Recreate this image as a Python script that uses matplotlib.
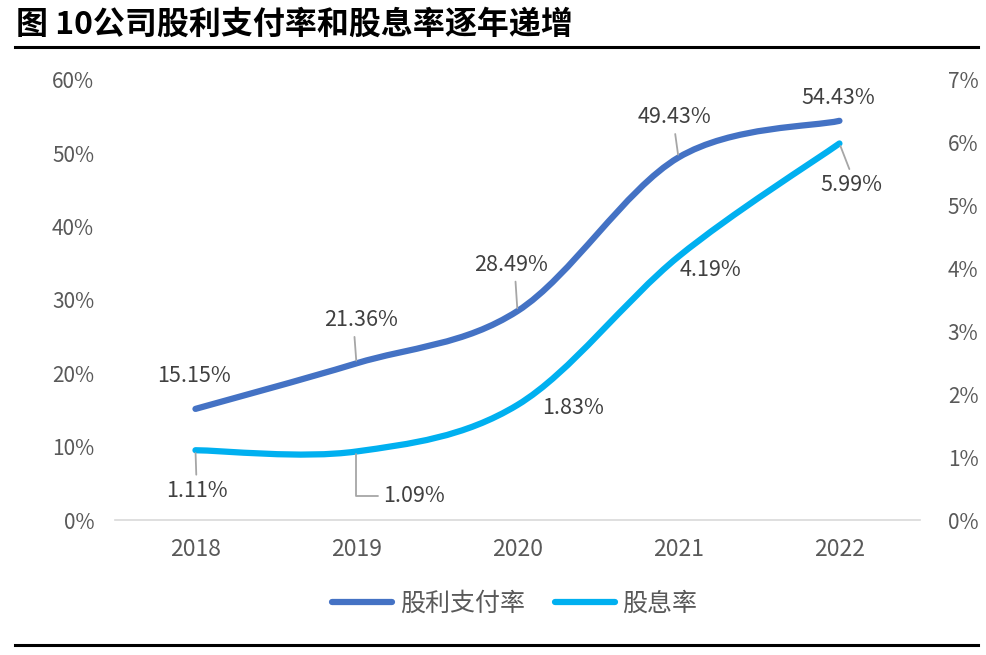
import matplotlib
matplotlib.use('Agg')
import matplotlib.pyplot as plt
from matplotlib.path import Path
from matplotlib.patches import PathPatch
from matplotlib.lines import Line2D

years = ['2018', '2019', '2020', '2021', '2022']
payout = [15.15, 21.36, 28.49, 49.43, 54.43]   # 股利支付率 (%)
dividend_yield = [1.11, 1.09, 1.83, 4.19, 5.99]  # 股息率 (%)

plt.rcParams['font.family'] = ['Noto Sans CJK SC', 'DejaVu Sans']

C_PAY = '#4472C4'
C_YLD = '#00B0F0'
GRAY = '#595959'
LEAD = '#A6A6A6'


def smooth_path(xs, ys):
    # excel-style smoothed line: bezier segments through each point
    pts = list(zip(xs, ys))
    n = len(pts)
    verts = [pts[0]]
    codes = [Path.MOVETO]
    for i in range(n - 1):
        p0 = pts[i - 1] if i > 0 else pts[i]
        p1 = pts[i]
        p2 = pts[i + 1]
        p3 = pts[i + 2] if i + 2 < n else pts[i + 1]
        c1 = (p1[0] + (p2[0] - p0[0]) / 6, p1[1] + (p2[1] - p0[1]) / 6)
        c2 = (p2[0] - (p3[0] - p1[0]) / 6, p2[1] - (p3[1] - p1[1]) / 6)
        verts += [c1, c2, p2]
        codes += [Path.CURVE4] * 3
    return Path(verts, codes)


fig = plt.figure(figsize=(9.86, 6.55), dpi=100)
ax = fig.add_axes([0.1166, 0.2061, 0.8164, 0.6718])
ax2 = ax.twinx()

x = list(range(len(years)))

ax.add_patch(PathPatch(smooth_path(x, payout), fill=False, edgecolor=C_PAY,
                       lw=4.5, capstyle='round', joinstyle='round', zorder=3))
ax2.add_patch(PathPatch(smooth_path(x, dividend_yield), fill=False, edgecolor=C_YLD,
                        lw=4.5, capstyle='round', joinstyle='round', zorder=3))

ax.set_xlim(-0.5, 4.5)
ax.set_ylim(0, 60)
ax2.set_ylim(0, 7)
ax.set_xticks(x)
ax.set_xticklabels(years)
ax.set_yticks(range(0, 61, 10))
ax.set_yticklabels([f'{v}%' for v in range(0, 61, 10)])
ax2.set_yticks(range(0, 8))
ax2.set_yticklabels([f'{v}%' for v in range(0, 8)])

for a in (ax, ax2):
    for s in ['top', 'left', 'right', 'bottom']:
        a.spines[s].set_visible(False)
    a.tick_params(length=0, labelsize=15, labelcolor=GRAY)
ax.spines['bottom'].set_visible(True)
ax.spines['bottom'].set_color('#D9D9D9')
ax.spines['bottom'].set_linewidth(1.2)
ax.tick_params(axis='x', pad=13, labelsize=16.5)
ax.tick_params(axis='y', pad=15)
ax2.tick_params(axis='y', pad=20)

lead = dict(arrowstyle='-', color=LEAD, lw=1.3, shrinkA=2, shrinkB=2)
lab = dict(fontsize=15.5, color='#404040', ha='center', va='center',
           textcoords='offset pixels')

# payout labels
ax.annotate(f'{payout[0]:.2f}%', (0, payout[0]), xytext=(-1, 33), **lab)
ax.annotate(f'{payout[1]:.2f}%', (1, payout[1]), xytext=(5, 43),
            arrowprops=dict(lead, relpos=(0.4, 0)), **lab)
ax.annotate(f'{payout[2]:.2f}%', (2, payout[2]), xytext=(-6, 46),
            arrowprops=dict(lead, relpos=(0.55, 0)), **lab)
ax.annotate(f'{payout[3]:.2f}%', (3, payout[3]), xytext=(-4, 40),
            arrowprops=dict(lead, relpos=(0.5, 0)), **lab)
ax.annotate(f'{payout[4]:.2f}%', (4, payout[4]), xytext=(-1, 23), **lab)

# yield labels
ax2.annotate(f'{dividend_yield[0]:.2f}%', (0, dividend_yield[0]), xytext=(1, -41),
             arrowprops=dict(lead, relpos=(0.5, 1)), **lab)
ax2.annotate(f'{dividend_yield[1]:.2f}%', (1, dividend_yield[1]), xytext=(58, -45),
             arrowprops=dict(lead, relpos=(0, 0.5),
                             connectionstyle='angle,angleA=0,angleB=90,rad=0'), **lab)
ax2.annotate(f'{dividend_yield[2]:.2f}%', (2, dividend_yield[2]), xytext=(56, -3), **lab)
ax2.annotate(f'{dividend_yield[3]:.2f}%', (3, dividend_yield[3]), xytext=(32, -13), **lab)
ax2.annotate(f'{dividend_yield[4]:.2f}%', (4, dividend_yield[4]), xytext=(12, -42),
             arrowprops=dict(lead, relpos=(0.5, 1)), **lab)

handles = [Line2D([], [], color=C_PAY, lw=4.5, solid_capstyle='round'),
           Line2D([], [], color=C_YLD, lw=4.5, solid_capstyle='round')]
fig.legend(handles, ['股利支付率', '股息率'], loc='center', bbox_to_anchor=(0.522, 0.078),
           ncol=2, frameon=False, handlelength=2.4, handletextpad=0.3,
           columnspacing=1.2, prop={'family': ['Noto Sans CJK SC'], 'size': 18},
           labelcolor=GRAY)

fig.text(0.016, 0.962, '图 10公司股利支付率和股息率逐年递增', fontsize=23, fontweight='bold',
         family=['Noto Sans CJK SC', 'DejaVu Sans'], ha='left', va='center', color='black')
fig.add_artist(Line2D([0.015, 0.992], [1 - 47 / 655] * 2, color='black', lw=2.2))
fig.add_artist(Line2D([0.015, 0.992], [1 - 645 / 655] * 2, color='black', lw=2.2))

plt.savefig('out.png', dpi=100)
